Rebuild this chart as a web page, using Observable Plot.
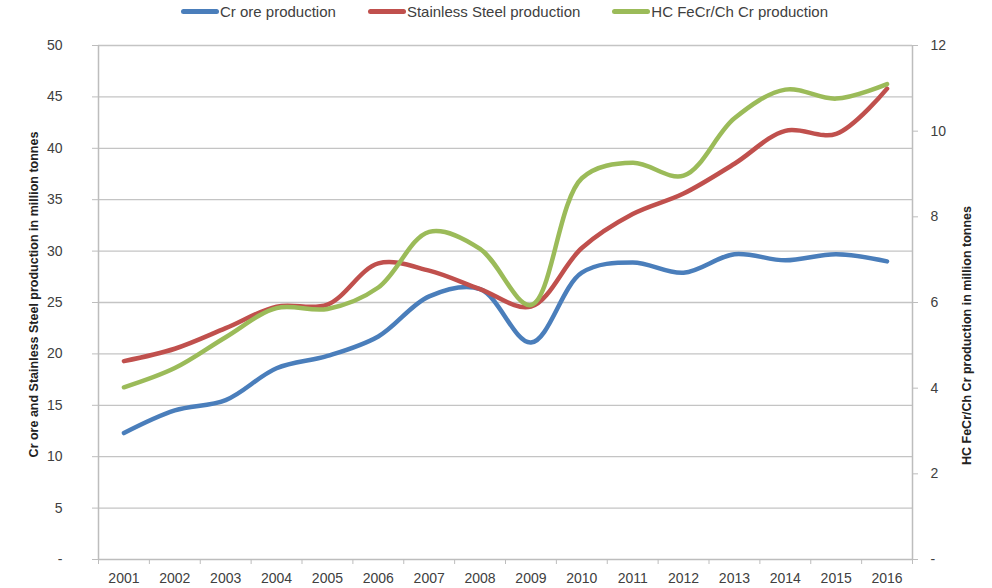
<!DOCTYPE html>
<html>
<head>
<meta charset="utf-8">
<script src="https://cdn.jsdelivr.net/npm/d3@7"></script>
<script src="https://cdn.jsdelivr.net/npm/@observablehq/plot@0.6"></script>
<style>
  html, body { margin: 0; padding: 0; background: #fff; }
  body { width: 992px; height: 588px; overflow: hidden; font-family: "Liberation Sans", Arial, sans-serif; }
  #legend { height: 28px; display: flex; align-items: center; justify-content: center; padding-left: 17px; padding-bottom: 5px; box-sizing: border-box; font-size: 15px; color: #404040; }
  .item { display: flex; align-items: center; margin: 0 16px; }
  .sw { width: 38px; height: 5px; border-radius: 3px; margin-right: 1px; }
</style>
</head>
<body>
<div id="legend"></div>
<div id="chart"></div>
<script>
const years = [2001, 2002, 2003, 2004, 2005, 2006, 2007, 2008, 2009, 2010, 2011, 2012, 2013, 2014, 2015, 2016];
const crOre = [12.3, 14.5, 15.5, 18.6, 19.8, 21.7, 25.6, 26.3, 21.1, 27.9, 28.9, 27.9, 29.7, 29.1, 29.7, 29.0];
const stainless = [19.3, 20.5, 22.5, 24.6, 24.8, 28.8, 28.1, 26.3, 24.6, 30.3, 33.6, 35.6, 38.5, 41.7, 41.4, 45.8];
const hcFeCr = [4.02, 4.47, 5.19, 5.87, 5.85, 6.35, 7.65, 7.25, 5.94, 8.9, 9.26, 8.96, 10.3, 10.97, 10.76, 11.1];
const seriesNames = ["Cr ore production", "Stainless Steel production", "HC FeCr/Ch Cr production"];
const seriesColors = ["#4a7ebb", "#c0504d", "#9bbb59"];
const leftTicks = [0, 5, 10, 15, 20, 25, 30, 35, 40, 45, 50];
const rightTicks = [0, 2, 4, 6, 8, 10, 12];
const leftTitle = "Cr ore and Stainless Steel production in million tonnes";
const rightTitle = "HC FeCr/Ch Cr production in million tonnes";

const leftMax = leftTicks[leftTicks.length - 1];
const rightMax = rightTicks[rightTicks.length - 1];
const toLeft = v => v * leftMax / rightMax;

const rows = [];
years.forEach((y, i) => {
  rows.push({year: y, value: crOre[i], series: seriesNames[0]});
  rows.push({year: y, value: stainless[i], series: seriesNames[1]});
  rows.push({year: y, value: toLeft(hcFeCr[i]), series: seriesNames[2]});
});
const bounds = years.map(y => y - 0.5).concat([years[years.length - 1] + 0.5]);
const xLo = bounds[0], xHi = bounds[bounds.length - 1];

// legend
const legend = document.getElementById("legend");
seriesNames.forEach((n, i) => {
  const it = document.createElement("div");
  it.className = "item";
  const sw = document.createElement("span");
  sw.className = "sw";
  sw.style.background = seriesColors[i];
  const t = document.createElement("span");
  t.textContent = n;
  it.appendChild(sw); it.appendChild(t);
  legend.appendChild(it);
});

const chart = Plot.plot({
  width: 992,
  height: 560,
  marginTop: 17,
  marginBottom: 29,
  marginLeft: 98,
  marginRight: 80,
  style: {fontFamily: "Liberation Sans, Arial, sans-serif", fontSize: "14px", color: "#404040", background: "#fff"},
  x: {domain: [xLo, xHi]},
  y: {domain: [0, leftMax]},
  color: {domain: seriesNames, range: seriesColors},
  marks: [
    Plot.ruleY(leftTicks.slice(1), {stroke: "#c4c4c4", strokeWidth: 1.3}),
    Plot.ruleY([0], {stroke: "#bdbdbd", strokeWidth: 1.5}),
    Plot.ruleX([xLo, xHi], {stroke: "#bdbdbd", strokeWidth: 1.5}),
    Plot.axisX(bounds, {tickSize: 5, tickFormat: () => "", stroke: "#bdbdbd", label: null}),
    Plot.axisX(years, {tickSize: 0, tickPadding: 14, tickFormat: d => String(d), fill: "#404040", fontSize: 14, label: null}),
    Plot.axisY(leftTicks, {anchor: "left", tickSize: 6, tickPadding: 30, stroke: "#bdbdbd", fill: "#404040", fontSize: 14,
      tickFormat: d => d === 0 ? "-" : String(d), label: null}),
    Plot.axisY(rightTicks.map(toLeft), {anchor: "right", tickSize: 5, tickPadding: 13, stroke: "#bdbdbd", fill: "#404040", fontSize: 14,
      tickFormat: d => { const v = Math.round(d * rightMax / leftMax); return v === 0 ? "-" : String(v); }, label: null}),
    Plot.text([leftTitle], {frameAnchor: "left", textAnchor: "middle", rotate: -90, dx: -65, dy: -8, fontSize: 12.5, fontWeight: "bold", fill: "#222"}),
    Plot.text([rightTitle], {frameAnchor: "right", textAnchor: "middle", rotate: -90, dx: 54, dy: 33, fontSize: 12.5, fontWeight: "bold", fill: "#222"}),
    Plot.line(rows, {x: "year", y: "value", z: "series", stroke: "series", strokeWidth: 4.5, curve: "catmull-rom"})
  ]
});
document.getElementById("chart").appendChild(chart);
</script>
</body>
</html>
